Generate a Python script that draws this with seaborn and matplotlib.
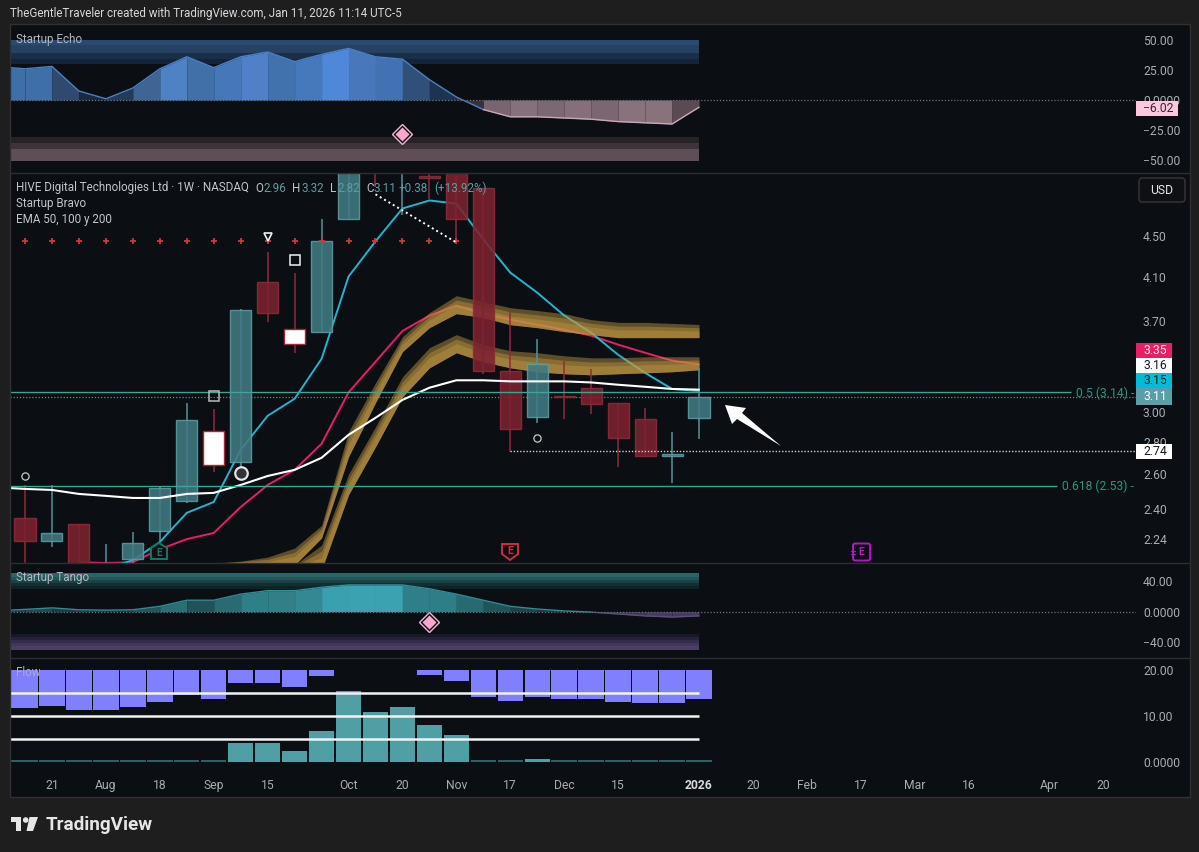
import numpy as np
import pandas as pd
import seaborn as sns
import matplotlib.pyplot as plt
from matplotlib.patches import Polygon, Rectangle, FancyBboxPatch
from matplotlib.ticker import FixedLocator, FixedFormatter, NullLocator

# --- data ---
bar_idx = list(range(26))

# candles: kind, body top, body bottom, high, low  (t teal, r red, w white body)
candle_kind = ['r', 't', 'r', 't', 't', 't', 't', 'w', 't', 'r', 'w', 't', 't',
               'r', 't', 'r', 'r', 'r', 'r', 't', 'r', 'r', 'r', 'r', 't', 't']
body_top = [2.35, 2.27, 2.318, 2.03, 2.218, 2.519, 2.948, 2.874, 3.80, 4.055, 3.638, 4.45, 5.6,
            5.8, 5.8, 5.17, 5.6, 5.03, 3.301, 3.355, 3.116, 3.174, 3.066, 2.955, 2.725, 3.11]
body_bot = [2.228, 2.228, 2.0, 1.98, 2.138, 2.28, 2.444, 2.657, 2.675, 3.775, 3.514, 3.613, 4.68,
            5.4, 5.4, 5.15, 4.68, 3.301, 2.887, 2.968, 3.105, 3.059, 2.828, 2.713, 2.712, 2.96]
wick_high = [2.536, 2.536, 2.318, 2.213, 2.275, 2.525, 3.066, 3.024, 3.81, 4.337, 4.14, 4.68, 5.7,
             5.8, 5.9, 5.5, 5.7, 5.03, 3.784, 3.555, 3.379, 3.317, 3.066, 3.03, 2.867, 3.32]
wick_low = [2.05, 2.198, 2.0, 1.95, 2.05, 2.223, 2.433, 2.614, 2.614, 3.697, 3.442, 3.6, 4.68,
            5.05, 4.73, 4.91, 4.438, 3.279, 2.738, 2.927, 2.955, 2.989, 2.644, 2.713, 2.548, 2.82]

ema_left = 2.518
ema_white = [2.513, 2.507, 2.484, 2.473, 2.461, 2.461, 2.484, 2.490, 2.536, 2.589, 2.626, 2.70, 2.847,
             2.961, 3.086, 3.174, 3.229, 3.229, 3.221, 3.221, 3.221, 3.213, 3.196, 3.181, 3.165, 3.16]
cyan_idx = list(range(3, 26))
ema_cyan = [2.09, 2.132, 2.223, 2.378, 2.438, 2.75, 2.975, 3.094, 3.393, 4.102, 4.45, 4.80, 4.89,
            4.855, 4.47, 4.14, 3.953, 3.75, 3.604, 3.425, 3.285, 3.165, 3.15]
pink_idx = list(range(2, 26))
ema_pink = [2.122, 2.118, 2.122, 2.186, 2.238, 2.27, 2.41, 2.536, 2.626, 2.789, 3.14, 3.37, 3.618,
            3.749, 3.836, 3.766, 3.714, 3.671, 3.629, 3.579, 3.506, 3.441, 3.379, 3.35]

upper_idx = list(range(7, 26))
upper_top = [2.118, 2.127, 2.147, 2.192, 2.31, 2.867, 3.21, 3.571, 3.775, 3.925, 3.871, 3.818, 3.793, 3.766,
             3.714, 3.691, 3.691, 3.682, 3.673]
upper_bot = [2.112, 2.118, 2.103, 2.108, 2.244, 2.706, 3.066, 3.449, 3.646, 3.766, 3.732, 3.671, 3.646, 3.613,
             3.588, 3.563, 3.563, 3.563, 3.563]
lower_idx = list(range(10, 26))
lower_top = [2.108, 2.207, 2.60, 2.90, 3.255, 3.481, 3.588, 3.506, 3.457, 3.441, 3.417, 3.401, 3.401,
             3.409, 3.409, 3.409]
lower_bot = [2.084, 2.084, 2.479, 2.769, 3.108, 3.323, 3.441, 3.37, 3.323, 3.293, 3.278, 3.27, 3.278,
             3.285, 3.293, 3.308]

plus_idx = list(range(17))
plus_level = 4.45

echo_left = 27
echo_vals = [26, 28, 7.5, 1, 10, 26, 36, 27, 36, 40, 32, 38, 43, 36, 34, 17, 2.5, -8, -14, -14, -15, -16,
             -18, -19, -20, -6.02]
tango_left = 2
tango_vals = [3, 5, 2.5, 2, 2.5, 7, 15, 15, 23, 27.5, 27.5, 32, 35, 35, 35, 30, 23, 15, 7, 3.5, 1, -0.5,
              -3, -5.5, -7, -5.5]

flow_purple = [11.8, 12.1, 11.2, 11.4, 12.0, 13.0, 14.6, 13.6, 17.2, 17.2, 16.2, 18.8, np.nan, np.nan, np.nan,
               19.0, 17.7, 14.2, 13.3, 14.2, 13.8, 13.6, 13.0, 12.8, 12.9, 13.8]
flow_teal = [np.nan] * 8 + [4.1, 4.1, 2.5, 6.8, 15.4, 10.8, 12.0, 8.0, 5.8] + [np.nan, np.nan, 0.6] + [np.nan] * 6
flow_stub = [0.45] * 8 + [np.nan] * 9 + [0.45, 0.45, np.nan] + [0.45] * 6
flow_lines = [15, 10, 5]

date_pos = [1, 3, 5, 7, 9, 12, 14, 16, 18, 20, 22, 25, 27, 29, 31, 33, 35, 38, 40]
date_lab = ['21', 'Aug', '18', 'Sep', '15', 'Oct', '20', 'Nov', '17', 'Dec', '15', '2026', '20', 'Feb', '17',
            'Mar', '16', 'Apr', '20']
price_ticks = [4.50, 4.10, 3.70, 3.00, 2.80, 2.60, 2.40, 2.24]

# shades of the area segments, left to right
echo_shades = ['#3f6fa8', '#3f6fa8', '#2f4a6e', '#1a2840', '#243a58', '#3f6594', '#4f82c4', '#416fa8', '#4677b8',
               '#4f80c8', '#4272ae', '#4679bc', '#4f88d8', '#4877bb', '#4272b2', '#30507a', '#1e3350', '#3a2f38',
               '#7a6470', '#86707b', '#7c6873', '#866f7b', '#7c6672', '#8a727d', '#8a727d', '#5a4a52']
tango_shades = ['#1f3d42', '#1f4a50', '#1b3d42', '#1b3d42', '#1b3d42', '#225459', '#2b6e76', '#215258', '#2a6a72',
                '#2f7f88', '#327f88', '#338893', '#3a9fae', '#3aa2b0', '#3aa2b0', '#2f7f8a', '#2e7e88', '#276a72',
                '#215458', '#1c4448', '#183a3e', '#2a2535', '#3a3050', '#40355a', '#453a60', '#453a60']

BG = '#1e1e1f'
PANE = '#0b0e12'
TXT = '#a9acb4'
FS = 8.7
FS_LEGEND = 8.35
W, H = 1199, 852
L, R = 10, 1136
PX_PER_BAR = 26.96
X0, X1 = (L - 25) / PX_PER_BAR, (R - 25) / PX_PER_BAR

sns.set_theme(style='dark')
plt.rcParams['font.family'] = ['Roboto', 'DejaVu Sans']
plt.rcParams['axes.unicode_minus'] = False

fig = plt.figure(figsize=(W / 100, H / 100), dpi=100, facecolor=BG)


def pane(top, bottom, ylim, ticks, labels, log=False):
    ax = fig.add_axes([L / W, 1 - bottom / H, (R - L) / W, (bottom - top) / H], facecolor=PANE)
    if log:
        ax.set_yscale('log')
    ax.set_xlim(X0, X1)
    ax.set_ylim(*ylim)
    ax.yaxis.tick_right()
    ax.yaxis.set_major_locator(FixedLocator(ticks))
    ax.yaxis.set_major_formatter(FixedFormatter(labels))
    ax.yaxis.set_minor_locator(NullLocator())
    ax.tick_params(axis='y', length=0, pad=5, labelsize=FS, labelcolor=TXT)
    ax.set_xticks([])
    ax.grid(False)
    for s in ax.spines.values():
        s.set_visible(False)
    return ax


def stacked_band(ax, edges, shades):
    for k, col in enumerate(shades):
        ax.fill_between([X0, 25], edges[k], edges[k + 1], color=col, lw=0, zorder=1)


def area(ax, left, vals, shades, up_col, down_col):
    xs = [X0] + bar_idx
    ys = [left] + vals
    for k in range(len(xs) - 1):
        ax.fill_between(xs[k:k + 2], ys[k:k + 2], 0, color=shades[k], lw=0, zorder=2, snap=False, antialiased=False)
    n_up = sum(v >= 0 for v in ys)
    sns.lineplot(x=xs[:n_up + 1], y=ys[:n_up + 1], ax=ax, color=up_col, linewidth=1, estimator=None, sort=False,
                 errorbar=None, zorder=3)
    sns.lineplot(x=xs[n_up:], y=ys[n_up:], ax=ax, color=down_col, linewidth=1, estimator=None, sort=False,
                 errorbar=None, zorder=3)
    ax.axhline(0, color='#6f7278', lw=0.9, ls=(0, (1, 1.5)), zorder=4)


# --- Startup Echo ---
ax_echo = pane(24, 173, ((100 - 173) / 1.2, (100 - 24) / 1.2), [50, 25, 0, -25, -50],
               ['50.00', '25.00', '0.0000', '\u221225.00', '\u221250.00'])
stacked_band(ax_echo, [50, 45.5, 39, 34, 30], ['#2b4a72', '#264161', '#1b2e48', '#15233a'])
stacked_band(ax_echo, [-30.5, -36, -40.5, -51], ['#262226', '#3d3338', '#5f4d58'])
area(ax_echo, echo_left, echo_vals, echo_shades, '#4a80c8', '#c8a8b8')
ax_echo.plot(14, -28, marker='D', ms=10.5, mfc=PANE, mec='#f2b6d2', mew=1, clip_on=False, zorder=6)
ax_echo.plot(14, -28, marker='D', ms=7, mfc='#ffa6d0', mec='none', zorder=7)

# --- main price pane ---
ax = pane(173, 563, (2.118, 5.21), price_ticks, ['%.2f' % t for t in price_ticks], log=True)

sns.lineplot(x=pink_idx, y=ema_pink, ax=ax, color='#e91e63', linewidth=1.4, estimator=None, sort=False,
             errorbar=None, zorder=2)
sns.lineplot(x=cyan_idx, y=ema_cyan, ax=ax, color='#1fb6cf', linewidth=1.4, estimator=None, sort=False,
             errorbar=None, zorder=2)

# the two gold bands, drawn in three layers that get brighter towards the lower edge
for band_idx, tops, bots in [(upper_idx, upper_top, upper_bot), (lower_idx, lower_top, lower_bot)]:
    tops, bots = np.array(tops), np.array(bots)
    for frac, alpha in [(0.0, 0.45), (0.25, 0.42), (0.5, 0.4)]:
        ax.fill_between(band_idx, tops ** (1 - frac) * bots ** frac, bots, color='#c49a44', alpha=alpha, lw=0, zorder=3)

for i in bar_idx:
    kind = candle_kind[i]
    wick = '#4f959b' if kind == 't' else '#8f2b39'
    fill = {'t': '#417a82', 'r': '#7c2230', 'w': '#ffffff'}[kind]
    edge = {'t': '#5b9ea6', 'r': '#8f2b39', 'w': '#a5283a'}[kind]
    ax.vlines(i, wick_low[i], wick_high[i], color=wick, lw=1.1, zorder=4)
    ax.bar(i, body_top[i] - body_bot[i], bottom=body_bot[i], width=0.78, color=fill, alpha=0.88 if kind != 'w' else 1,
           edgecolor=edge, linewidth=1, zorder=5)

sns.lineplot(x=[X0] + bar_idx, y=[ema_left] + ema_white, ax=ax, color='#ffffff', linewidth=1.5, estimator=None,
             sort=False, errorbar=None, zorder=6)

ax.plot(plus_idx, [plus_level] * len(plus_idx), ls='none', marker='+', ms=4.5, mew=1.3, color='#d8323f', zorder=6)
ax.hlines(3.14, X0, (1071 - 25) / PX_PER_BAR, color='#3aa695', lw=1, zorder=6)
ax.hlines(2.53, X0, (1057 - 25) / PX_PER_BAR, color='#3aa695', lw=1, zorder=6)
ax.hlines(3.11, X0, X1, color='#7b7e84', lw=0.9, ls=(0, (1, 1.5)), zorder=1)
ax.hlines(2.74, 18, X1, color='#d0d0d0', lw=1, ls=(0, (1, 1.3)), zorder=6)
ax.plot([13, 16], [4.96, 4.438], color='#ffffff', lw=1.4, ls=(0, (1, 1.6)), zorder=6)

ax.plot([0, 19], [2.589, 2.828], ls='none', marker='o', ms=5.2, mfc='none', mec='#c8c8c8', mew=0.9, zorder=7)
ax.plot(8, 2.608, marker='o', ms=9, mfc='#2f3338', mec='#e4e4e4', mew=1.6, zorder=7)
ax.plot(7, 3.116, marker='s', ms=6.8, mfc='none', mec='#b8bcc0', mew=1.1, zorder=7)
ax.plot(10, 4.263, marker='s', ms=6.8, mfc='none', mec='#f0f0f0', mew=1.1, zorder=7)
ax.plot(9, 4.49, marker='v', ms=5.5, mfc='#0b0e12', mec='#f0f0f0', mew=1.2, zorder=7)

# --- Startup Tango ---
ax_tango = pane(563, 658, ((611.7 - 658) / 0.765, (611.7 - 563) / 0.765), [40, 0, -40],
                ['40.00', '0.0000', '\u221240.00'])
stacked_band(ax_tango, [50, 46, 42, 38, 34, 30], ['#2a6468', '#245558', '#1c4144', '#142d30', '#0f2225'])
stacked_band(ax_tango, [-29, -33, -37, -41, -45, -50], ['#1a1724', '#26213a', '#352d4c', '#40375a', '#4a3f63'])
area(ax_tango, tango_left, tango_vals, tango_shades, '#2d8d98', '#5a4f78')
ax_tango.plot(15, -13.5, marker='D', ms=10.5, mfc=PANE, mec='#f2b6d2', mew=1, clip_on=False, zorder=6)
ax_tango.plot(15, -13.5, marker='D', ms=7, mfc='#ffa6d0', mec='none', zorder=7)

# --- Flow ---
ax_flow = pane(658, 772, (-10 / 4.6, 104 / 4.6), [20, 10, 0], ['20.00', '10.00', '0.0000'])
flow = pd.DataFrame({'x': bar_idx, 'purple': flow_purple, 'teal': flow_teal, 'stub': flow_stub})
flow['purple_h'] = flow['purple'] - 20
bar_style = dict(native_scale=True, width=0.945, saturation=1, linewidth=0, edgecolor='none', ax=ax_flow, zorder=2)
sns.barplot(data=flow, x='x', y='purple_h', bottom=20, color='#8080ff', **bar_style)
sns.barplot(data=flow, x='x', y='teal', color='#4f9fa5', **bar_style)
sns.barplot(data=flow, x='x', y='stub', color='#2f5f62', **bar_style)
# the first bar runs on to the pane edge
ax_flow.bar(X0, flow_purple[0] - 20, bottom=20, width=0.2, align='edge', color='#8080ff', lw=0, zorder=2)
ax_flow.bar(X0, flow_stub[0], width=0.2, align='edge', color='#2f5f62', lw=0, zorder=2)
ax_flow.hlines(flow_lines, X0, 25, color='#f2f2f2', lw=1.8, zorder=3)
ax_flow.set_xlim(X0, X1)
ax_flow.set_ylim(-10 / 4.6, 104 / 4.6)
ax_flow.set_xlabel('')
ax_flow.set_ylabel('')
ax_flow.set_xticks(date_pos)
ax_flow.set_xticklabels(date_lab)
ax_flow.tick_params(axis='x', length=0, pad=5, labelsize=FS, labelcolor=TXT)
for t in ax_flow.get_xticklabels():
    if t.get_text() == '2026':
        t.set_fontweight('bold')
        t.set_color('#d8dae0')

# --- everything placed in pixels: frame, labels, tags, badges, arrow, logo ---
top = fig.add_axes([0, 0, 1, 1], facecolor='none')
top.set_xlim(0, W)
top.set_ylim(H, 0)
top.axis('off')

fig.patches.append(Rectangle((L / W, 1 - 797 / H), (1190 - L) / W, (797 - 24) / H, transform=fig.transFigure,
                             facecolor=PANE, edgecolor='none', zorder=-5))
top.add_patch(Rectangle((L, 24), 1190 - L, 797 - 24, facecolor='none', edgecolor='#2f3134', lw=1))
for yy in [173, 563, 658]:
    top.plot([L, 1190], [yy, yy], color='#2c2e32', lw=1)


def label(x, y, s, color='#c2c5cc', size=FS_LEGEND, **kw):
    top.text(x, y, s, color=color, fontsize=size, va='center', **kw)


label(10, 14, 'TheGentleTraveler created with TradingView.com, Jan 11, 2026 11:14 UTC-5', color='#d6d8de', size=8.35)
label(16, 39, 'Startup Echo', color='#b4b7be')
label(16, 578, 'Startup Tango', color='#b4b7be')
label(16, 673, 'Flow', color='#a9a9dd')
label(16, 188, 'HIVE Digital Technologies Ltd \u00b7 1W \u00b7 NASDAQ')
label(16, 204, 'Startup Bravo')
label(16, 219, 'EMA 50, 100 y 200')
for x_, s_ in [(255, 'O'), (292, 'H'), (330, 'L'), (366, 'C')]:
    label(x_, 188, s_)
for x_, s_ in [(264, '2.96'), (301, '3.32'), (337, '2.82'), (373, '3.11'), (399, '+0.38'), (434, '(+13.92%)')]:
    label(x_, 188, s_, color='#5b9ea6')
label(1134, 393, '0.5 (3.14) -', color='#2f9384', ha='right', size=FS)
label(1134, 486, '0.618 (2.53) -', color='#2f9384', ha='right', size=FS)

for y0, y1, col, tcol, s in [(343, 358, '#e91e63', '#ffffff', '3.35'), (358, 373, '#ffffff', '#131722', '3.16'),
                             (373, 388, '#00bcd4', '#131722', '3.15'), (388, 405, '#5b9ea6', '#ffffff', '3.11'),
                             (444, 459, '#ffffff', '#131722', '2.74')]:
    top.add_patch(Rectangle((1136, y0), 36, y1 - y0, facecolor=col, edgecolor='none', zorder=5))
    top.text(1143, (y0 + y1) / 2, s, color=tcol, fontsize=FS, va='center', zorder=6)
top.add_patch(Rectangle((1136, 101), 42, 15, facecolor='#fcc8e0', edgecolor='none', zorder=5))
top.text(1143, 108.5, '\u22126.02', color='#3a2030', fontsize=FS, va='center', zorder=6)

top.add_patch(FancyBboxPatch((1139, 178), 46, 24, boxstyle='round,pad=0,rounding_size=3', facecolor='#0e1013',
                             edgecolor='#35373b', lw=1))
label(1162, 190, 'USD', color='#e6e7ea', ha='center', size=FS)

# earnings badges
e_teal = [(151, 548), (159, 543), (167, 548), (167, 559), (151, 559)]
e_red = [(502, 544), (518, 544), (518, 554), (510, 560), (502, 554)]
for pts, col in [(e_teal, '#0f7a63'), (e_red, '#c8313f')]:
    top.add_patch(Polygon(pts, closed=True, facecolor=PANE, edgecolor=col, lw=1.4, zorder=8))
top.text(159, 552.5, 'E', color='#0f7a63', fontsize=7.5, fontweight='bold', ha='center', va='center', zorder=9)
top.text(510, 551, 'E', color='#c8313f', fontsize=7.5, fontweight='bold', ha='center', va='center', zorder=9)
top.add_patch(FancyBboxPatch((853, 543.5), 17, 17, boxstyle='round,pad=0,rounding_size=2', facecolor=PANE,
                             edgecolor='#b814c4', lw=1.4, zorder=8))
top.plot([850.5, 855], [551, 551], color='#b814c4', lw=1, zorder=9)
top.plot([850.5, 855], [553.5, 553.5], color='#b814c4', lw=1, zorder=9)
top.text(861.5, 552, 'E', color='#b814c4', fontsize=7.5, fontweight='bold', ha='center', va='center', zorder=9)

# arrow
top.add_patch(Polygon([(725, 405), (746, 408), (742, 413), (781, 446), (737, 419), (732, 424)], closed=True,
                      facecolor='#ffffff', edgecolor='none', zorder=9))

# logo
top.add_patch(Polygon([(11, 817), (21, 817), (21, 831), (16, 831), (16, 822), (11, 822)], closed=True,
                      facecolor='#e6e6e6', edgecolor='none'))
top.add_patch(plt.Circle((25.7, 820), 2.8, facecolor='#e6e6e6', edgecolor='none'))
top.add_patch(Polygon([(29.5, 817), (38, 817), (33, 831), (26.5, 831)], closed=True, facecolor='#e6e6e6',
                      edgecolor='none'))
top.text(46, 824.5, 'TradingView', color='#e6e6e6', fontsize=13.6, fontweight='bold', va='center')

fig.savefig('out.png', dpi=100, facecolor=BG)
